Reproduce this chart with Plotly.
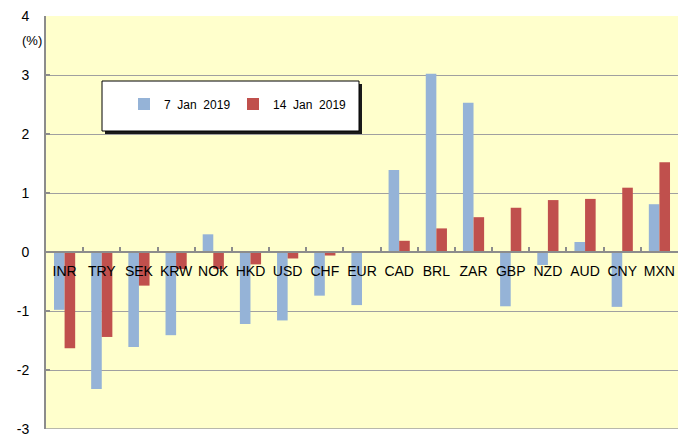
import plotly.graph_objects as go

categories = ["INR", "TRY", "SEK", "KRW", "NOK", "HKD", "USD", "CHF", "EUR",
              "CAD", "BRL", "ZAR", "GBP", "NZD", "AUD", "CNY", "MXN"]
jan07 = [-0.98, -2.32, -1.61, -1.41, 0.30, -1.22, -1.16, -0.74, -0.90,
         1.39, 3.02, 2.53, -0.92, -0.22, 0.17, -0.93, 0.81]
jan14 = [-1.63, -1.44, -0.57, -0.29, -0.29, -0.21, -0.11, -0.06, 0.0,
         0.19, 0.40, 0.59, 0.75, 0.88, 0.90, 1.09, 1.52]
series_names = ["7\u00a0 Jan\u00a0 2019", "14\u00a0 Jan\u00a0 2019"]
y_ticks = [-3, -2, -1, 0, 1, 2, 3, 4]
y_ticktext = ["-3", "-2", "-1", "0", "1", "2", "3", "4"]

W, H = 688, 434
ML, MR, MT, MB = 46, 10, 16, 5
PW, PH = W - ML - MR, H - MT - MB


def px_x(p):
    return (p - ML) / PW


def px_y(p):
    return (H - MB - p) / PH


FONT = "Liberation Sans, Arial, sans-serif"

fig = go.Figure()
fig.add_trace(go.Bar(x=categories, y=jan07, name=series_names[0],
                     marker=dict(color="#95B3D7", line=dict(width=0)),
                     legend="legend"))
fig.add_trace(go.Bar(x=categories, y=jan14, name=series_names[1],
                     marker=dict(color="#C0504D", line=dict(width=0)),
                     legend="legend2"))

# bottom boundary line (at -3)
fig.add_shape(type="line", xref="paper", yref="y", x0=0, x1=1,
              y0=y_ticks[0], y1=y_ticks[0],
              line=dict(color="#a0a0a0", width=1.5), layer="above")

# legend box with shadow
fig.add_shape(type="rect", xref="paper", yref="paper",
              x0=px_x(105), x1=px_x(362), y0=px_y(134), y1=px_y(84),
              fillcolor="#1a1a1a", line=dict(width=0), layer="above")
fig.add_shape(type="rect", xref="paper", yref="paper",
              x0=px_x(102), x1=px_x(359), y0=px_y(131), y1=px_y(81),
              fillcolor="white", line=dict(color="black", width=1), layer="above")

fig.add_annotation(text="(%)", xref="paper", yref="paper",
                   x=px_x(44), y=px_y(40), xanchor="right", yanchor="middle",
                   showarrow=False, font=dict(size=13, color="black", family=FONT))

legend_common = dict(bgcolor="rgba(0,0,0,0)", borderwidth=0,
                     font=dict(size=12, color="black", family=FONT),
                     xanchor="left", yanchor="middle", orientation="h")

fig.update_layout(
    width=W, height=H,
    margin=dict(l=ML, r=MR, t=MT, b=MB, pad=0, autoexpand=False),
    paper_bgcolor="white",
    plot_bgcolor="#FFFFCC",
    barmode="group",
    bargap=0.43,
    bargroupgap=0,
    font=dict(family=FONT, color="black"),
    showlegend=True,
    legend=dict(x=px_x(124), y=px_y(104), **legend_common),
    legend2=dict(x=px_x(233), y=px_y(104), **legend_common),
    xaxis=dict(
        anchor="free", position=3 / 7,
        showgrid=False, showline=True, linecolor="#8c8c8c", linewidth=2,
        ticks="inside", tickson="boundaries", ticklen=4, tickwidth=2,
        tickcolor="#8c8c8c", tickangle=0,
        tickfont=dict(size=14, color="black", family=FONT),
        ticklabelstandoff=6,
        automargin=False,
        fixedrange=True,
    ),
    yaxis=dict(
        range=[-3, 4], tickvals=y_ticks, ticktext=y_ticktext,
        showgrid=True, gridcolor="#a0a0a0", gridwidth=1,
        zeroline=False,
        showline=True, linecolor="#8c8c8c", linewidth=2,
        ticks="inside", ticklen=4, tickwidth=2, tickcolor="#8c8c8c",
        tickfont=dict(size=14, color="black", family=FONT),
        ticklabelstandoff=12,
        ticklabeloverflow="allow",
        automargin=False,
        fixedrange=True,
    ),
)

fig.write_html(
    "out.html",
    config={"displayModeBar": False},
    post_script="document.body.style.margin='0px';document.body.style.overflow='hidden';",
)
